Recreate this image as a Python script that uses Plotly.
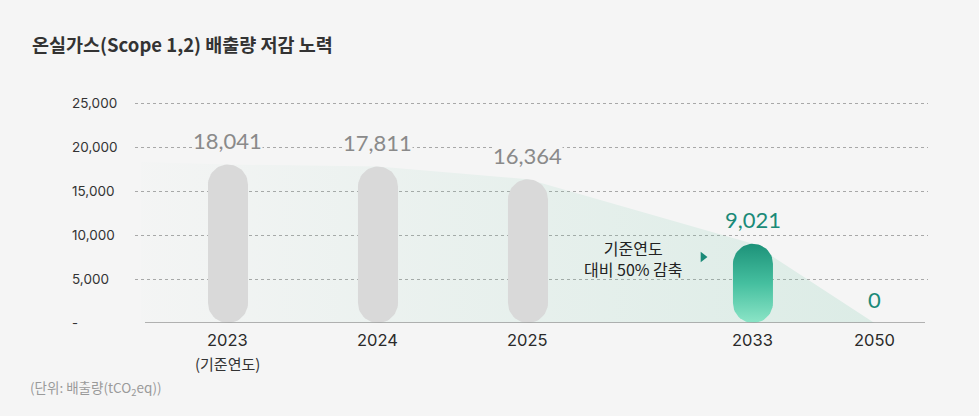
import numpy as np
import plotly.graph_objects as go

# ---- data ----
categories = ["2023", "2024", "2025", "2033", "2050"]
sub_labels = ["(기준연도)", "", "", "", ""]
emissions = [18041, 17811, 16364, 9021, 0]
y_ticks = [5000, 10000, 15000, 20000, 25000]
y_tick_labels = ["5,000", "10,000", "15,000", "20,000", "25,000"]
title_text = "온실가스(Scope 1,2) 배출량 저감 노력"
unit_text = "(단위: 배출량(tCO<sub>2</sub>eq))"
note_text = "기준연도<br>대비 50% 감축"

# ---- layout constants ----
W, H = 979, 416
BG = "#f5f5f5"
x_pos = [0, 1, 2, 3.5, 4.31]          # slot positions on the x axis
x_range = [-0.62, 4.667]
y_range = [0, 25500]
m_l, m_r, m_t, m_b = 135, 51, 99, 93
plot_w = W - m_l - m_r
plot_h = H - m_t - m_b
px_x = (x_range[1] - x_range[0]) / plot_w
px_y = (y_range[1] - y_range[0]) / plot_h
radius_px = 20
rx, ry = radius_px * px_x, radius_px * px_y

KR = "Noto Sans CJK KR"
NUM = "Lato, Noto Sans CJK KR"
TICK = "Inter, Noto Sans CJK KR"

fig = go.Figure()

# background area (decline trend)
area_x = [x_range[0] + 0.04] + x_pos + [x_pos[-1], x_range[0] + 0.04]
area_y = [emissions[0] + 300] + emissions + [0, 0]
fig.add_trace(go.Scatter(
    x=area_x, y=area_y, mode="lines", line=dict(width=0),
    fill="toself",
    fillgradient=dict(type="horizontal",
                      colorscale=[[0, "rgba(120,200,170,0.01)"],
                                  [0.5, "rgba(120,200,170,0.11)"],
                                  [1, "rgba(120,200,170,0.2)"]]),
    hoverinfo="skip", showlegend=False))


def pill(xc, v):
    t1 = np.linspace(0, np.pi, 30)
    t2 = np.linspace(np.pi, 2 * np.pi, 30)
    top_c = max(v - ry, ry)
    xs = np.concatenate([xc + rx * np.cos(t1), xc + rx * np.cos(t2)])
    ys = np.concatenate([top_c + ry * np.sin(t1), ry + ry * np.sin(t2)])
    return np.append(xs, xs[0]), np.append(ys, ys[0])


for i, (xc, v) in enumerate(zip(x_pos, emissions)):
    if v <= 0:
        continue
    xs, ys = pill(xc, v)
    if categories[i] == "2033":
        fig.add_trace(go.Scatter(
            x=xs, y=ys, mode="lines", line=dict(width=0), fill="toself",
            fillgradient=dict(type="vertical", start=0, stop=v,
                              colorscale=[[0, "#8ce5c7"], [0.5, "#45bf9f"], [1, "#1d9279"]]),
            hoverinfo="skip", showlegend=False))
    else:
        fig.add_trace(go.Scatter(
            x=xs, y=ys, mode="lines", line=dict(width=0), fill="toself",
            fillcolor="#d9d9d9", hoverinfo="skip", showlegend=False))

# triangle marker pointing to 2033
fig.add_trace(go.Scatter(
    x=[x_pos[3] - 50 * px_x], y=[(323 - 257) * px_y], mode="markers",
    marker=dict(symbol="triangle-right", size=9, color="#1a8a78"),
    hoverinfo="skip", showlegend=False))

annotations = []
# value labels and category labels
for i, (xc, v) in enumerate(zip(x_pos, emissions)):
    green = categories[i] in ("2033", "2050")
    annotations.append(dict(
        x=xc, y=v, xref="x", yref="y", text=f"{v:,}", showarrow=False,
        yanchor="middle", yshift=24, bgcolor=BG, borderpad=0,
        font=dict(family=NUM, size=22, color="#1a8a78" if green else "#8a8a8a")))
    annotations.append(dict(
        x=xc, y=0, xref="x", yref="y", text=categories[i], showarrow=False,
        yanchor="middle", yshift=-17,
        font=dict(family=TICK, size=16.5, color="#2a2a2a")))
    if sub_labels[i]:
        annotations.append(dict(
            x=xc, y=0, xref="x", yref="y", text=sub_labels[i], showarrow=False,
            yanchor="middle", yshift=-40,
            font=dict(family=KR, size=15, color="#333333")))

# y tick labels (left aligned)
for v, t in zip(y_ticks, y_tick_labels):
    annotations.append(dict(
        x=(70 - m_l) / plot_w, xref="paper", y=v, yref="y", text=t, showarrow=False,
        xanchor="left", yanchor="middle",
        font=dict(family=TICK, size=13.5, color="#333333")))
annotations.append(dict(
    x=(70 - m_l) / plot_w, y=0, xref="paper", yref="y", text="-", showarrow=False,
    xanchor="left", yanchor="middle", font=dict(family=TICK, size=13, color="#333333")))

# note text
annotations.append(dict(
    x=x_pos[3] - 119 * px_x, y=(323 - 258) * px_y, xref="x", yref="y", text=note_text,
    showarrow=False, xanchor="center", yanchor="middle", align="center",
    font=dict(family=KR, size=16, color="#222222")))


def paper_xy(px, py):
    return (px - m_l) / plot_w, (H - m_b - py) / plot_h


# title & unit
tx, ty = paper_xy(30, 44)
annotations.append(dict(
    x=tx, y=ty, xref="paper", yref="paper", text=f"<b>{title_text}</b>",
    showarrow=False, xanchor="left", yanchor="middle",
    font=dict(family=KR, size=18.5, color="#333333")))
ux, uy = paper_xy(28, 388)
annotations.append(dict(
    x=ux, y=uy, xref="paper", yref="paper", text=unit_text, showarrow=False,
    xanchor="left", yanchor="middle",
    font=dict(family=KR, size=13.5, color="#9a9a9a")))

fig.update_layout(
    width=W, height=H, paper_bgcolor=BG, plot_bgcolor=BG,
    margin=dict(l=m_l, r=m_r, t=m_t, b=m_b),
    showlegend=False, annotations=annotations,
    xaxis=dict(range=x_range, showgrid=False, zeroline=False,
               showticklabels=False, fixedrange=True),
    yaxis=dict(range=y_range, tickvals=y_ticks, showticklabels=False,
               showgrid=True, gridcolor="#a8a8a8", griddash="dot", gridwidth=1,
               zeroline=False, fixedrange=True),
    shapes=[dict(type="line", xref="x", yref="y",
                 x0=x_range[0] + 10 * px_x, x1=x_range[1] - 3 * px_x, y0=0, y1=0,
                 line=dict(color="#9a9a9a", width=1.5), layer="above")],
)

fig.write_html("out.html", config={"displayModeBar": False},
               post_script="document.body.style.margin='0';")
